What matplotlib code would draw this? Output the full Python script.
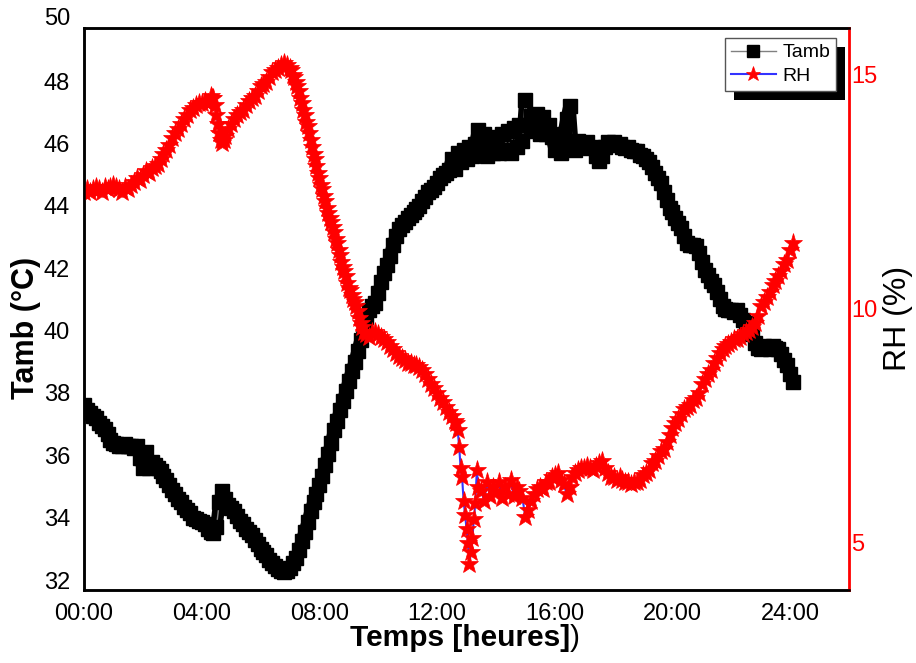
import numpy as np
import matplotlib.pyplot as plt
from matplotlib.patches import Rectangle
from matplotlib.transforms import IdentityTransform

plt.rcParams['font.family'] = ['Liberation Sans', 'DejaVu Sans']

# ambient temperature, one reading every 6 min from 00:00 to 24:06
hours = np.linspace(0, 24.1, 242)
tamb = [
    37.60, 37.45, 37.35, 37.25, 37.20, 37.05, 36.95, 36.85, 36.70, 36.50,
    36.40, 36.35, 36.30, 36.30, 36.35, 36.30, 36.30, 36.25, 36.30, 35.90,
    35.60, 36.10, 35.60, 35.80, 35.70, 35.60, 35.50, 35.35, 35.20, 35.05,
    34.90, 34.75, 34.60, 34.50, 34.35, 34.25, 34.15, 34.00, 33.95, 33.90,
    33.85, 33.80, 33.65, 33.55, 33.50, 33.70, 34.50, 34.85, 34.60, 34.40,
    34.30, 34.20, 34.05, 33.90, 33.80, 33.65, 33.55, 33.45, 33.30, 33.15,
    33.00, 32.90, 32.80, 32.65, 32.55, 32.45, 32.35, 32.30, 32.25, 32.30,
    32.40, 32.55, 32.70, 32.95, 33.25, 33.55, 33.85, 34.20, 34.50, 34.75,
    35.05, 35.35, 35.70, 36.05, 36.40, 36.80, 37.10, 37.45, 37.75, 38.05,
    38.40, 38.70, 39.00, 39.35, 39.70, 40.05, 40.45, 40.65, 40.80, 40.90,
    41.20, 41.55, 41.85, 42.10, 42.40, 42.75, 43.05, 43.25, 43.40, 43.50,
    43.60, 43.70, 43.80, 43.90, 44.00, 44.15, 44.30, 44.45, 44.50, 44.60,
    44.75, 44.90, 45.00, 45.05, 45.15, 45.50, 45.20, 45.70, 45.40, 45.80,
    45.50, 45.90, 45.60, 46.00, 46.45, 45.80, 46.30, 45.60, 46.10, 45.70,
    46.20, 45.70, 46.30, 45.80, 46.40, 45.70, 46.50, 45.90, 46.60, 46.10,
    47.40, 46.60, 46.90, 46.40, 46.95, 46.30, 46.85, 46.30, 46.60, 46.20,
    45.80, 46.20, 45.70, 46.30, 46.80, 47.20, 45.90, 45.80, 46.10, 46.00,
    45.90, 46.05, 45.85, 45.90, 45.60, 45.45, 45.60, 45.90, 46.05, 46.00,
    46.05, 45.95, 46.00, 45.90, 45.85, 45.90, 45.80, 45.75, 45.75, 45.65,
    45.60, 45.50, 45.40, 45.25, 45.05, 44.90, 44.75, 44.45, 44.20, 43.95,
    43.80, 43.60, 43.45, 43.30, 43.05, 42.80, 42.75, 42.75, 42.70, 42.50,
    42.20, 41.95, 41.80, 41.60, 41.45, 41.25, 41.00, 40.80, 40.70, 40.65,
    40.65, 40.60, 40.65, 40.50, 40.35, 40.25, 40.15, 39.90, 39.60, 39.45,
    39.40, 39.50, 39.45, 39.40, 39.50, 39.45, 39.40, 39.25, 39.05, 38.90,
    38.60, 38.35,
]

# relative humidity, sampled faster while it changes quickly
hours_rh = np.concatenate([np.linspace(0, 4.3, 44),
                           np.linspace(4.35, 4.8, 10),
                           np.linspace(4.9, 7.0, 22),
                           np.linspace(7.05, 9.5, 50),
                           np.linspace(9.6, 12.6, 31),
                           np.linspace(12.65, 13.4, 16),
                           np.linspace(13.5, 24.1, 107)])
rh = [
    # 00:00 - 04:18
    12.50, 12.55, 12.50, 12.55, 12.60, 12.55, 12.50, 12.60, 12.55, 12.60,
    12.65, 12.60, 12.55, 12.50, 12.60, 12.55, 12.65, 12.70, 12.80, 12.75,
    12.85, 12.95, 12.90, 13.00, 13.05, 13.10, 13.20, 13.30, 13.40, 13.50,
    13.65, 13.75, 13.85, 13.95, 14.05, 14.15, 14.25, 14.30, 14.35, 14.40,
    14.40, 14.45, 14.40, 14.55,
    # 04:21 - 04:48
    14.50, 14.50, 14.35, 14.15, 13.95, 13.75, 13.60, 13.55, 13.60, 13.70,
    # 04:54 - 07:00
    13.85,
    13.95, 14.05, 14.15, 14.20, 14.25, 14.35, 14.45, 14.50, 14.55, 14.65,
    14.75, 14.80, 14.85, 14.95, 15.05, 15.10, 15.15, 15.20, 15.25, 15.20,
    15.15,
    # 07:03 - 09:30
    15.10, 15.00, 14.95, 14.85, 14.75, 14.65, 14.50, 14.40, 14.25, 14.15,
    14.00, 13.90, 13.75, 13.60, 13.45, 13.30, 13.20, 13.05, 12.90, 12.80,
    12.65, 12.55, 12.40, 12.30, 12.15, 12.05, 11.95, 11.85, 11.75, 11.65,
    11.50, 11.40, 11.25, 11.15, 11.00, 10.90, 10.80, 10.70, 10.55, 10.45,
    10.40, 10.30, 10.20, 10.15, 10.05, 9.95, 9.80, 9.70, 9.60, 9.50,
    # 09:36 - 12:36
    9.45, 9.40, 9.50, 9.50,
    9.45, 9.40, 9.35, 9.30, 9.20, 9.15, 9.05, 9.00, 8.95, 8.90,
    8.85, 8.85, 8.80, 8.80, 8.75, 8.70, 8.60, 8.50, 8.40, 8.30,
    8.20, 8.10, 8.00, 7.90, 7.80, 7.70, 7.60,
    # 12:39 - 13:24
    7.55, 7.40, 7.05, 6.60, 6.40, 5.90, 5.60, 5.30,
    5.00, 4.55, 4.80, 5.10, 5.50, 5.85, 6.55, 6.20,
    # 13:30 - 24:06
    6.10, 5.90, 6.30, 6.00, 6.20,
    6.10, 6.30, 5.95, 6.20, 6.05, 6.35, 6.00, 6.20, 6.10, 5.95,
    5.55, 5.70, 5.90, 6.05, 6.15, 6.20, 6.15, 6.30, 6.30, 6.40,
    6.45, 6.50, 6.35, 6.25, 6.05, 6.20, 6.40, 6.50, 6.55, 6.60,
    6.60, 6.65, 6.60, 6.55, 6.65, 6.70, 6.75, 6.60, 6.50, 6.40,
    6.40, 6.35, 6.40, 6.35, 6.30, 6.30, 6.25, 6.30, 6.30, 6.35,
    6.45, 6.50, 6.55, 6.70, 6.75, 6.85, 6.95, 7.00, 7.15, 7.30,
    7.45, 7.55, 7.65, 7.75, 7.85, 7.90, 7.95, 8.05, 8.10, 8.20,
    8.40, 8.50, 8.60, 8.70, 8.85, 8.95, 9.05, 9.15, 9.20, 9.25,
    9.30, 9.35, 9.35, 9.40, 9.45, 9.50, 9.55, 9.60, 9.70, 9.85,
    10.05, 10.15, 10.25, 10.35, 10.50, 10.60, 10.70, 10.80, 10.95, 11.05,
    11.25, 11.40,
]

xticks = [0, 4, 8, 12, 16, 20, 24]
xticklabels = ['00:00', '04:00', '08:00', '12:00', '16:00', '20:00', '24:00']
tamb_ticks = [32, 34, 36, 38, 40, 42, 44, 46, 48]
rh_ticks = [5, 10, 15]

fig = plt.figure(figsize=(9.16, 6.63), dpi=100)
ax = fig.add_axes([0.0917, 0.1101, 0.8352, 0.8477])
ax2 = ax.twinx()

# heavy black trace under the square markers so the band stays continuous
ax.plot(hours, tamb, color='k', lw=9, solid_joinstyle='round',
        solid_capstyle='butt')
l0, = ax.plot(hours, tamb, color='#808080', lw=1, marker='s', ms=10,
              mfc='k', mec='k')
l1, = ax2.plot(hours_rh, rh, color='#3333ff', lw=1.5, marker='*', ms=14,
               mfc='red', mec='red', mew=0.5)

ax.set_xlim(0, 26)
ax.set_ylim(31.68, 49.71)
ax2.set_ylim(3.99, 16.0)

ax.set_xticks(xticks)
ax.set_xticklabels(xticklabels)
ax.set_yticks(tamb_ticks)
ax2.set_yticks(rh_ticks)

ax.tick_params(axis='both', length=0, labelsize=17)
ax.tick_params(axis='y', pad=10)
ax.tick_params(axis='x', pad=9)
ax2.tick_params(axis='y', length=0, labelsize=17, pad=1.5, labelcolor='red')

# the 50 label sits just above the frame
ax.text(-0.018, 50, '50', transform=ax.get_yaxis_transform(), ha='right',
        va='center', fontsize=17, clip_on=False)

for s in ['left', 'bottom', 'top']:
    ax.spines[s].set_linewidth(1.8)
    ax2.spines[s].set_linewidth(1.8)
ax2.spines['right'].set_color('red')
ax2.spines['right'].set_linewidth(2)
ax.spines['right'].set_visible(False)

ax.set_ylabel('Tamb (°C)', fontsize=22, fontweight='bold', va='center')
ax.yaxis.set_label_coords(-0.076, 0.466)
ax2.set_ylabel('RH (%)', fontsize=23, va='center')
ax2.yaxis.set_label_coords(1.064, 0.484)

ax.set_xlabel('Temps [heures]', fontsize=21.5, fontweight='bold')
ax.xaxis.set_label_coords(0.4915, -0.061)
ax.annotate(')', xy=(1.0, 0.5), xycoords=ax.xaxis.label, ha='left',
            va='center', fontsize=21.5)

leg = ax2.legend(handles=[l0, l1], labels=['Tamb', 'RH'], loc='upper right',
                 bbox_to_anchor=(0.9127, 0.9427), bbox_transform=fig.transFigure,
                 borderaxespad=0, fancybox=False, framealpha=1,
                 edgecolor='#555555', fontsize=14, handlelength=2.3,
                 handletextpad=0.35, borderpad=0.3, labelspacing=0.3,
                 markerscale=0.8, numpoints=1)
leg.get_frame().set_linewidth(1)

# solid black drop shadow behind the legend box
fig.canvas.draw()
bb = leg.get_window_extent()
shadow = Rectangle((bb.x0 + 9, bb.y0 - 9), bb.width, bb.height,
                   transform=IdentityTransform(), facecolor='k',
                   edgecolor='none', zorder=leg.get_zorder() - 0.1,
                   clip_on=False)
ax2.add_artist(shadow)

fig.savefig('out.png', dpi=100)
